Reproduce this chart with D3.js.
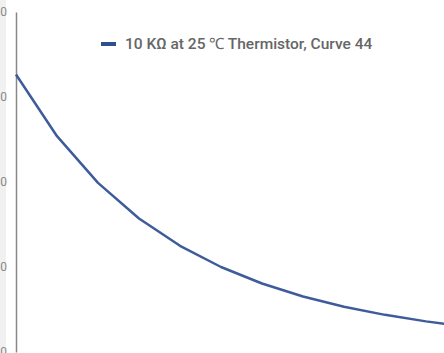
<!DOCTYPE html>
<html>
<head>
<meta charset="utf-8">
<script src="https://cdn.jsdelivr.net/npm/d3@7"></script>
<style>
  body { margin: 0; background: #fff; }
  svg { display: block; }
</style>
</head>
<body>
<div id="vis"></div>
<script>
//data: temperature (C) and resistance (ohm) of the thermistor
const temps = [0, 5, 10, 15, 20, 25, 30, 35, 40, 45, 50, 55]
const resistance = [32650, 25390, 19900, 15710, 12490, 10000, 8057, 6530, 5327, 4370, 3603, 2986]
const yTicks = [0, 10000, 20000, 30000, 40000]
const seriesName = "10 KΩ at 25 ℃ Thermistor, Curve 44"

const width = 444
const height = 353

const svg = d3.select("#vis")
    .append("svg")
    .attr("width", width)
    .attr("height", height)

//light strip on the left where the tick labels are cut off
svg.append("rect")
    .attr("x", 0)
    .attr("y", 0)
    .attr("width", 6)
    .attr("height", height)
    .attr("fill", "#f1f1f1")

//scales, the chart is cropped so the range runs past the window
const x = d3.scaleLinear()
    .domain([0, 55])
    .range([16, 16 + 41 * 11])

const y = d3.scaleLinear()
    .domain([0, 40000])
    .range([352, 12])

//y axis, labels sit mostly outside the window like in the crop
const yAxis = svg.append("g")
    .attr("transform", "translate(16,0)")
    .call(d3.axisLeft(y).tickValues(yTicks).tickSize(0).tickPadding(9))

yAxis.select(".domain")
    .attr("stroke", "#888")
    .attr("stroke-width", 1.5)

yAxis.selectAll("text")
    .attr("fill", "#888")
    .style("font-family", "Roboto, sans-serif")
    .style("font-size", "12px")

//the curve
const line = d3.line()
    .x((d, i) => x(temps[i]))
    .y(d => y(d))

svg.append("path")
    .datum(resistance)
    .attr("d", line)
    .attr("fill", "none")
    .attr("stroke", "#3e5c9a")
    .attr("stroke-width", 2.5)
    .attr("stroke-linejoin", "round")

//legend
const legend = svg.append("g")
    .attr("transform", "translate(101,44)")

legend.append("line")
    .attr("x1", 0)
    .attr("x2", 15)
    .attr("stroke", "#2f4f8f")
    .attr("stroke-width", 4)

legend.append("text")
    .attr("x", 24)
    .attr("y", 5)
    .attr("fill", "#666")
    .style("font-family", "Roboto, sans-serif")
    .style("font-size", "15.5px")
    .style("font-weight", "500")
    .text(seriesName)
</script>
</body>
</html>
